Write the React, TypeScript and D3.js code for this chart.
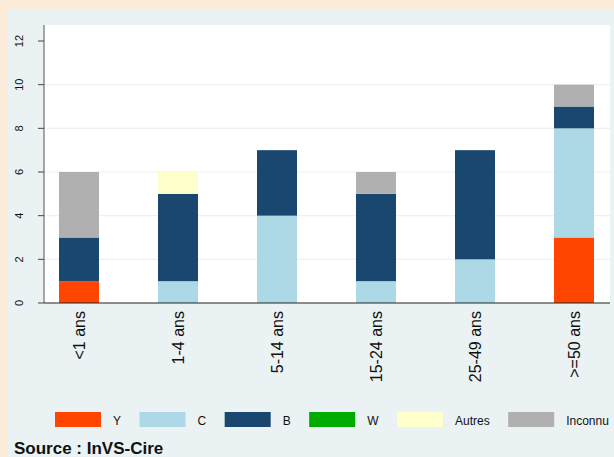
import React from "react";
import * as d3 from "d3";

const categories = ["<1 ans", "1-4 ans", "5-14 ans", "15-24 ans", "25-49 ans", ">=50 ans"];
const seriesNames = ["Y", "C", "B", "W", "Autres", "Inconnu"];
const seriesColors = ["#ff4500", "#add8e6", "#1a476f", "#00ab00", "#ffffcc", "#b0b0b0"];
const valY = [1, 0, 0, 0, 0, 3];
const valC = [0, 1, 4, 1, 2, 5];
const valB = [2, 4, 3, 4, 5, 1];
const valW = [0, 0, 0, 0, 0, 0];
const valAutres = [0, 1, 0, 0, 0, 0];
const valInconnu = [3, 0, 0, 1, 0, 1];
const yTicks = [0, 2, 4, 6, 8, 10, 12];
const sourceText = "Source : InVS-Cire";

const W = 614;
const H = 457;
const plot = { left: 44, right: 610, top: 25, bottom: 303 };
const FONT = "'Liberation Sans', Arial, sans-serif";

function measure(text: string, size: number) {
  if (typeof document === "undefined") return text.length * size * 0.6;
  const c = document.createElement("canvas").getContext("2d");
  if (!c) return text.length * size * 0.6;
  c.font = `${size}px ${FONT}`;
  return c.measureText(text).width;
}

export default function App() {
  const seriesValues = [valY, valC, valB, valW, valAutres, valInconnu];
  const rows = categories.map((c, i) => {
    const r: any = { cat: c };
    seriesNames.forEach((s, k) => (r[s] = seriesValues[k][i]));
    return r;
  });
  const stack = d3.stack().keys(seriesNames)(rows);

  const x = d3.scalePoint().domain(categories).range([79, 574]);
  const y = d3.scaleLinear().domain([0, 12]).range([303, 41]);
  const barW = 40;

  const swW = 46;
  const labelGap = 12;
  const itemGap = 18.5;
  const legendPos: number[] = [];
  let cur = 55;
  seriesNames.forEach((s) => {
    legendPos.push(cur);
    cur += swW + labelGap + measure(s, 12) + itemGap;
  });

  return (
    <svg
      width={W}
      height={H}
      style={{ position: "absolute", left: 0, top: 0, fontFamily: FONT }}
    >
      <rect x={0} y={0} width={W} height={H} fill="#fdebd9" />
      <rect x={7} y={9} width={W - 7} height={H - 9} fill="#eaf2f3" />
      <rect x={plot.left} y={plot.top} width={plot.right - plot.left} height={plot.bottom - plot.top} fill="#ffffff" />
      {yTicks.filter((t) => t > 0 && t < 12).map((t) => (
        <line key={"g" + t} x1={plot.left} x2={plot.right} y1={y(t)} y2={y(t)} stroke="#eaf2f3" strokeWidth={1.2} />
      ))}
      {stack.map((layer, k) =>
        layer.map((d, i) =>
          d[1] - d[0] > 0 ? (
            <rect
              key={k + "-" + i}
              x={(x(categories[i]) as number) - barW / 2}
              y={y(d[1])}
              width={barW}
              height={y(d[0]) - y(d[1])}
              fill={seriesColors[k]}
            />
          ) : null
        )
      )}
      <line x1={plot.left} x2={plot.left} y1={plot.top} y2={plot.bottom} stroke="#555" strokeWidth={1} />
      <line x1={plot.left} x2={plot.right} y1={plot.bottom} y2={plot.bottom} stroke="#222" strokeWidth={1.2} />
      {yTicks.map((t) => (
        <g key={"t" + t}>
          <line x1={plot.left - 6} x2={plot.left} y1={y(t)} y2={y(t)} stroke="#444" strokeWidth={1} />
          <text
            transform={`translate(22.5,${y(t)}) rotate(-90)`}
            textAnchor="middle"
            fontSize={11}
            fill="#111"
          >
            {t}
          </text>
        </g>
      ))}
      {categories.map((c) => (
        <text
          key={c}
          transform={`translate(${(x(c) as number) + 6},311) rotate(-90)`}
          textAnchor="end"
          fontSize={16}
          fill="#111"
        >
          {c}
        </text>
      ))}
      {seriesNames.map((s, k) => (
        <g key={"l" + s}>
          <rect x={legendPos[k]} y={412} width={swW} height={15} fill={seriesColors[k]} />
          <text x={legendPos[k] + swW + labelGap} y={425} fontSize={12} fill="#111">
            {s}
          </text>
        </g>
      ))}
      <text x={14} y={454} fontSize={17} fontWeight="bold" fill="#111">
        {sourceText}
      </text>
    </svg>
  );
}
